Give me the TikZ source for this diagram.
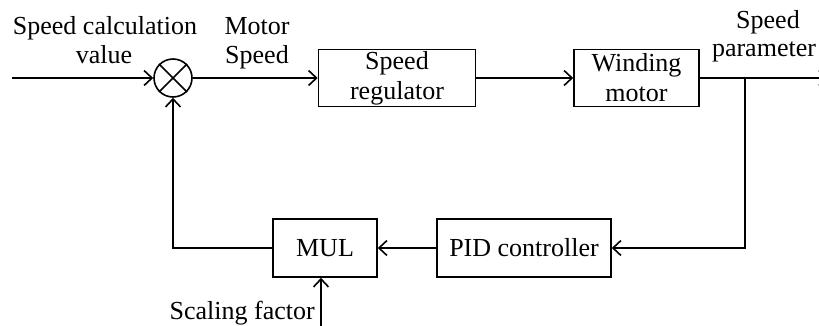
\documentclass[tikz,border=0pt]{standalone}
\usepackage{fontspec}
\setmainfont{Liberation Serif}
\usetikzlibrary{arrows.meta}
\begin{document}
\begin{tikzpicture}[x=1pt,y=-1pt,
  every node/.style={font=\fontsize{26}{30}\selectfont},
  blk/.style={draw,line width=1.6pt,align=center,inner sep=0pt,minimum height=57},
  lbl/.style={inner sep=0pt,anchor=base},
  arr/.style={line width=1.6pt,-{Straight Barb[length=8pt,width=15pt,line width=1.6pt]}},
  ln/.style={line width=1.6pt}]
\useasboundingbox (0,0) rectangle (819,326);
% blocks
\node[draw,circle,line width=1.6pt,minimum size=38,inner sep=0pt] (sum) at (173,78) {};
\draw[ln] (sum.45) -- (sum.225) (sum.135) -- (sum.315);
\node[blk,minimum width=157] (reg) at (397,78) {Speed\\regulator};
\node[blk,minimum width=125] (wind) at (636.5,78) {Winding\\motor};
\node[blk,minimum width=174,minimum height=58] (pid) at (524,248) {PID controller};
\node[blk,minimum width=104,minimum height=58] (mul) at (325,248) {MUL};
% coordinates
\coordinate (in) at (12,78);
\coordinate (br) at (745,78);
\coordinate (out) at (828,78);
\coordinate (sf) at (321,330);
% connectors
\draw[arr] (in) -- (sum);
\draw[arr] (sum) -- (reg);
\draw[arr] (reg) -- (wind);
\draw[arr] (wind) -- (out);
\draw[arr] (br) |- (pid);
\draw[arr] (pid) -- (mul);
\draw[arr] (mul.west) -| (sum.south);
\draw[arr] (sf) -- (sf |- mul.south);
% labels
\node[lbl] (l1) at (105,35) {Speed calculation};
\node[lbl] (l2) at (104,64) {value};
\node[lbl] (l3) at (257,35) {Motor};
\node[lbl] (l4) at (257,64) {Speed};
\node[lbl] (l5) at (768,29) {Speed};
\node[lbl] (l6) at (764,57) {parameter};
\node[lbl,anchor=base east] (l7) at (315,319) {Scaling factor};
\end{tikzpicture}
\end{document}
